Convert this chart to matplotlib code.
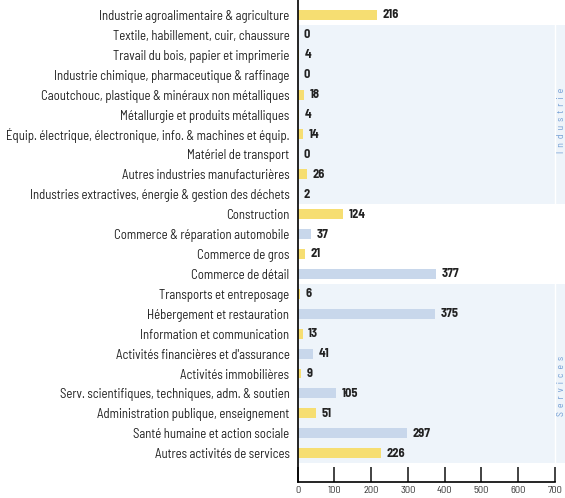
import matplotlib
matplotlib.use("Agg")
import matplotlib.pyplot as plt
from matplotlib import font_manager

names = {f.name for f in font_manager.fontManager.ttflist}
fam = "Barlow Semi Condensed" if "Barlow Semi Condensed" in names else "DejaVu Sans"
plt.rcParams["font.family"] = [fam, "DejaVu Sans"]

secteurs = [
    "Industrie agroalimentaire & agriculture",
    "Textile, habillement, cuir, chaussure",
    "Travail du bois, papier et imprimerie",
    "Industrie chimique, pharmaceutique & raffinage",
    "Caoutchouc, plastique & minéraux non métalliques",
    "Métallurgie et produits métalliques",
    "Équip. électrique, électronique, info. & machines et équip.",
    "Matériel de transport",
    "Autres industries manufacturières",
    "Industries extractives, énergie & gestion des déchets",
    "Construction",
    "Commerce & réparation automobile",
    "Commerce de gros",
    "Commerce de détail",
    "Transports et entreposage",
    "Hébergement et restauration",
    "Information et communication",
    "Activités financières et d'assurance",
    "Activités immobilières",
    "Serv. scientifiques, techniques, adm. & soutien",
    "Administration publique, enseignement",
    "Santé humaine et action sociale",
    "Autres activités de services",
]
valeurs = [216, 0, 4, 0, 18, 4, 14, 0, 26, 2, 124, 37, 21, 377, 6, 375, 13, 41, 9, 105, 51, 297, 226]
groupe = ["j", "j", "j", "j", "j", "j", "j", "j", "j", "j", "j", "b", "j", "b", "j", "b",
          "j", "b", "j", "b", "j", "b", "j"]
xticks = [0, 100, 200, 300, 400, 500, 600, 700]

couleurs = {"j": "#f6de72", "b": "#c8d7eb"}
bande = "#eef4fa"

fig = plt.figure(figsize=(5.65, 4.98), dpi=100)
ax = fig.add_axes([0.527, 0.032, 0.455, 0.968])

y = list(range(len(secteurs)))
ax.barh(y, valeurs, height=0.5, color=[couleurs[g] for g in groupe], zorder=2)

# bandes Industrie / Services
for y0, y1, nom, yc in [(0.5, 9.5, "Industrie", 5.3), (13.5, 22.5, "Services", 18.6)]:
    ax.axhspan(y0, y1, xmin=0, xmax=1.04, color=bande, clip_on=False, zorder=0, lw=0)
    ax.plot([700, 700], [y0, y1], color="white", lw=1, zorder=1, clip_on=False)
    ax.text(718, yc, "  ".join(nom), rotation=90, ha="center", va="center", fontsize=7,
            color="#6f9bd3", clip_on=False)

for yi, v in zip(y, valeurs):
    ax.text(v + 15, yi, str(v), va="center", ha="left", fontsize=9,
            fontweight="bold", color="#222222")

ax.set_yticks(y)
ax.set_yticklabels(secteurs, fontsize=9.2, color="#222222")
ax.set_ylim(23.45, -0.75)
ax.set_xlim(0, 700)
ax.set_xticks(xticks)
ax.set_xticklabels([str(t) for t in xticks], fontsize=7.5, color="#333333")
ax.tick_params(axis="y", length=0, pad=6)
ax.tick_params(axis="x", direction="in", length=11, width=1.2, pad=3, color="#222222")

for s in ["top", "right"]:
    ax.spines[s].set_visible(False)
ax.spines["left"].set_linewidth(1.2)
ax.spines["bottom"].set_linewidth(1.2)
ax.set_facecolor("none")

fig.savefig("out.png", dpi=100)
